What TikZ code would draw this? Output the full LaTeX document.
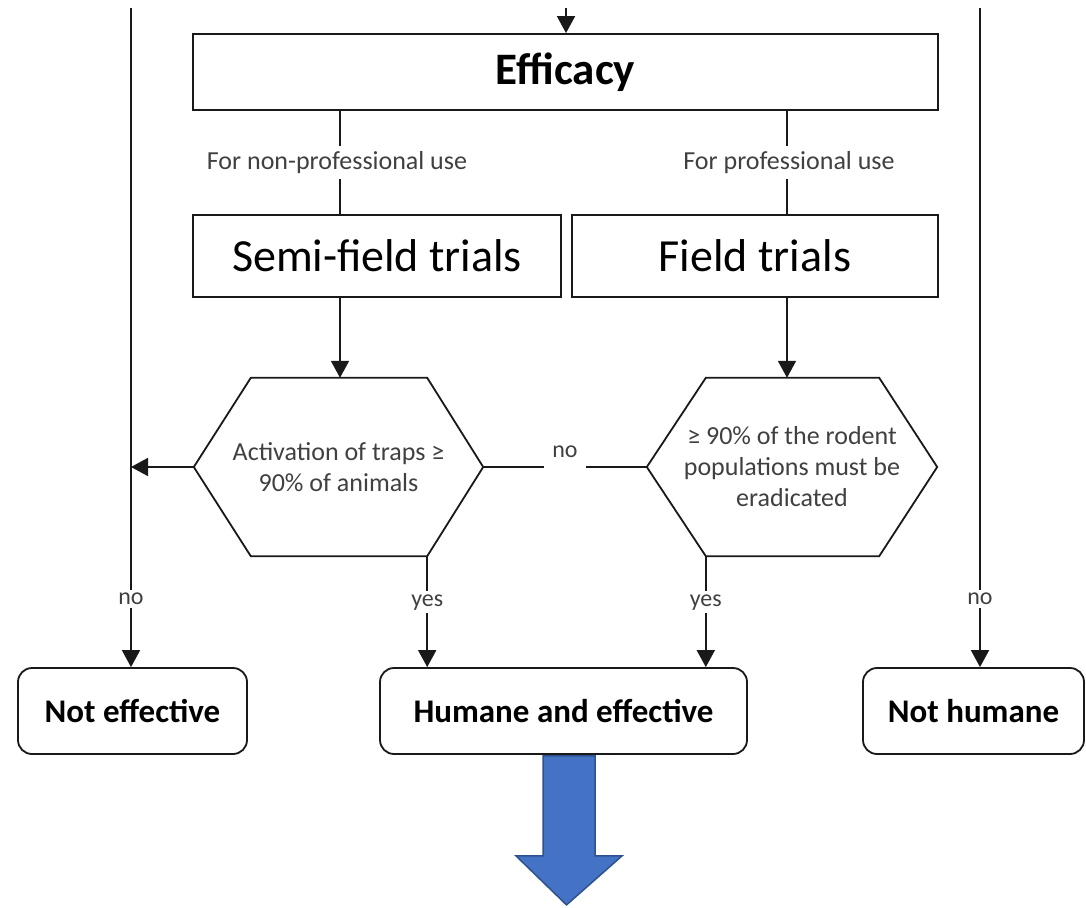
\documentclass[tikz,border=0pt]{standalone}
\usepackage{fontspec}
\setmainfont{Carlito}
\usetikzlibrary{arrows.meta,calc}
\definecolor{txtgray}{HTML}{404040}
\definecolor{bluefill}{HTML}{4472C4}
\definecolor{blueline}{HTML}{2F528F}
\tikzset{
  ln/.style={line width=1.8pt, draw=black!90},
  arr/.style={ln, -{Triangle[length=17pt,width=18pt]}},
  sqbox/.style={draw=black!90, line width=1.8pt, rectangle, align=center, inner sep=0pt},
  rbox/.style={draw=black!90, line width=1.8pt, rectangle, rounded corners=14pt, minimum height=86pt, inner sep=0pt,
    font=\bfseries\fontsize{33}{38}\selectfont},
  hextxt/.style={rectangle, inner sep=0pt, minimum height=178pt, align=center, text=txtgray,
    font=\fontsize{26}{31}\selectfont},
  lab/.style={fill=white, inner sep=3pt, text=txtgray, font=\fontsize{24}{28}\selectfont},
  sidelab/.style={fill=white, inner xsep=3pt, inner ysep=5pt, text=txtgray, font=\fontsize{26}{30}\selectfont},
}
\begin{document}
\begin{tikzpicture}[x=1pt,y=-1pt]
\useasboundingbox (0,0) rectangle (1086,907);

% nodes
\node[sqbox, minimum width=745pt, minimum height=76pt, font=\bfseries\fontsize{45}{50}\selectfont] (eff) at (565.5,72) {Efficacy};
\node[sqbox, minimum width=368pt, minimum height=82pt, font=\fontsize{46}{52}\selectfont] (semi) at (377,256) {Semi-field trials};
\node[sqbox, minimum width=366pt, minimum height=82pt, font=\fontsize{46}{52}\selectfont] (field) at (755,256) {Field trials};

\node[hextxt, minimum width=289pt] (hexL) at (338.5,467) {Activation of traps ≥\\90\% of animals};
\node[hextxt, minimum width=290pt] (hexR) at (792,467) {≥ 90\% of the rodent\\populations must be\\eradicated};

\node[rbox, minimum width=229pt] (noteff) at (132.5,711) {Not effective};
\node[rbox, minimum width=367pt] (humane) at (563.5,711) {Humane and effective};
\node[rbox, minimum width=221pt] (nothum) at (973.5,711) {Not humane};

% hexagon outlines
\draw[ln, line join=miter] (hexL.west) -- ([xshift=57pt]hexL.north west) -- ([xshift=-56pt]hexL.north east) -- (hexL.east)
  -- ([xshift=-56pt]hexL.south east) -- ([xshift=57pt]hexL.south west) -- cycle;
\draw[ln, line join=miter] (hexR.west) -- ([xshift=59pt]hexR.north west) -- ([xshift=-58pt]hexR.north east) -- (hexR.east)
  -- ([xshift=-58pt]hexR.south east) -- ([xshift=59pt]hexR.south west) -- cycle;

% coordinates
\coordinate (topin) at (566,8);
\coordinate (lt) at (131,8);
\coordinate (rt) at (980,8);
\coordinate (cL) at (340,0);
\coordinate (cR) at (787,0);
\coordinate (yL) at ([xshift=-56pt]hexL.south east);
\coordinate (yR) at ([xshift=59pt]hexR.south west);

% connectors
\draw[arr] (topin) -- (topin |- eff.north);
\draw[arr] (lt) -- node[lab, pos=0.897] {no} (lt |- noteff.north);
\draw[arr] (rt) -- node[lab, pos=0.897] {no} (rt |- nothum.north);

\draw[ln] (cL |- eff.south) -- node[sidelab, xshift=-3pt] {For non-professional use} (cL |- semi.north);
\draw[ln] (cR |- eff.south) -- node[sidelab, xshift=2pt] {For professional use} (cR |- field.north);

\draw[arr] (cL |- semi.south) -- (cL |- hexL.north);
\draw[arr] (cR |- field.south) -- (cR |- hexR.north);

\draw[arr] (hexL.west) -- (lt |- hexL.west);
\draw[ln] (hexL.east) -- node[lab, inner xsep=8pt, text height=8pt, text depth=28pt, inner ysep=2pt] {no} (hexR.west);

\draw[arr] (yL) -- node[lab, pos=0.415] {yes} (yL |- humane.north);
\draw[arr] (yR) -- node[lab, pos=0.415] {yes} (yR |- humane.north);

% big blue arrow
\draw[fill=bluefill, draw=blueline, line width=1.5pt, line join=miter]
  ($(humane.south)+(-20.5,1)$) -- ++(52,0) -- ++(0,100) -- ++(27,0) -- ($(humane.south)+(3,150)$)
  -- ($(humane.south)+(-47.5,101)$) -- ++(27,0) -- cycle;
\end{tikzpicture}
\end{document}
